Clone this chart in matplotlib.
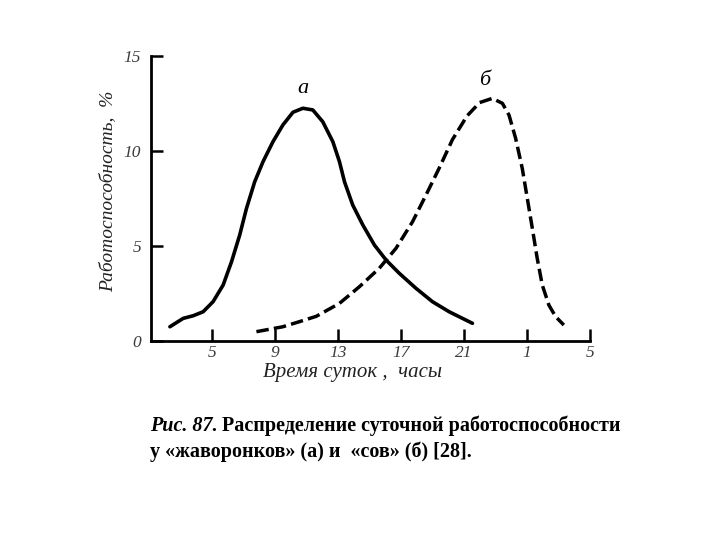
import numpy as np
import matplotlib
matplotlib.use("Agg")
import matplotlib.pyplot as plt

# hours of the day (continuous scale, 25 = 1 a.m., 29 = 5 a.m.)
hours_a = [2.34, 3.18, 3.82, 4.45, 5.08, 5.72, 6.25, 6.77, 7.2, 7.72, 8.25, 8.88, 9.51, 10.15,
           10.78, 11.41, 12.04, 12.68, 13.1, 13.42, 13.94, 14.58, 15.32, 16.06, 16.9, 17.96,
           19.0, 20.06, 21.54]
perf_a = [0.75, 1.19, 1.33, 1.54, 2.07, 2.95, 4.17, 5.58, 6.98, 8.38, 9.44, 10.49, 11.37, 12.04,
          12.25, 12.16, 11.54, 10.49, 9.44, 8.38, 7.16, 6.11, 5.05, 4.26, 3.56, 2.77,
          2.07, 1.54, 0.93]

hours_b = [7.83, 9.51, 10.57, 11.63, 13.1, 14.37, 15.63, 16.69, 17.74, 18.59, 19.43, 20.27,
           21.2, 22.0, 22.8, 23.44, 23.86, 24.28, 24.7, 25.02, 25.34, 25.65, 25.97, 26.39,
           26.82, 27.34]
perf_b = [0.49, 0.75, 1.02, 1.3, 1.98, 2.86, 3.83, 4.88, 6.28, 7.68, 9.1, 10.6,
          11.85, 12.55, 12.77, 12.51, 11.89, 10.67, 9.09, 7.51, 5.93, 4.35, 2.95, 1.89,
          1.28, 0.84]

tick_pos = [5, 9, 13, 17, 21, 25, 29]
tick_lab = ["5", "9", "13", "17", "21", "1", "5"]
ytick_pos = [0, 5, 10, 15]

fig = plt.figure(figsize=(7.2, 5.4), dpi=100)
ax = fig.add_axes([151/720, 1-341/540, (590-151)/720, (341-56)/540])

ax.plot(hours_a, perf_a, color="black", lw=2.6, solid_capstyle="round", solid_joinstyle="round")
ln, = ax.plot(hours_b, perf_b, color="black", lw=2.5)
ln.set_dashes((3.6, 1.5))

ax.set_xlim(1.14, 29)
ax.set_ylim(0, 15)
for s in ["top", "right"]:
    ax.spines[s].set_visible(False)
for s in ["left", "bottom"]:
    ax.spines[s].set_linewidth(2.0)

tfont = dict(family="Liberation Serif", style="italic", size=12.5, color="#3a3a3a")
ax.set_xticks(tick_pos)
ax.set_xticklabels(tick_lab, fontdict=tfont)
ax.set_yticks(ytick_pos)
ax.set_yticklabels([str(v) for v in ytick_pos], fontdict=tfont)
ax.tick_params(axis="both", direction="in", length=8.5, width=1.8)
ax.tick_params(axis="x", pad=3)
ax.tick_params(axis="y", pad=7)

ax.set_xlabel("Время суток ,  часы", family="Liberation Serif", style="italic",
              size=15, color="#222222", va="center")
ax.xaxis.set_label_coords(0.46, -0.109)
ax.set_ylabel("Работоспособность,  %", family="Liberation Serif", style="italic",
              size=14, color="#222222", va="center")
ax.yaxis.set_label_coords(-0.098, 0.525)

cfont = dict(family="Liberation Serif", style="italic", size=16)
ax.text(10.8, 13.3, "а", fontdict=cfont, ha="center", va="center")
ax.text(22.3, 13.7, "б", fontdict=cfont, ha="center", va="center")

# caption
r = fig.canvas.get_renderer()
t1 = fig.text(150/720, 1-426/540, "Рис. 87.", family="Liberation Serif", style="italic",
              weight="bold", size=14.5, va="center")
bb = t1.get_window_extent(renderer=r)
fig.text((bb.x1 + 4)/720, 1-426/540, "Распределение суточной работоспособности",
         family="Liberation Serif", weight="bold", size=14.5, va="center")
fig.text(150/720, 1-452/540, "у «жаворонков» (а) и  «сов» (б) [28].",
         family="Liberation Serif", weight="bold", size=14.5, va="center")

fig.savefig("out.png", dpi=100)
